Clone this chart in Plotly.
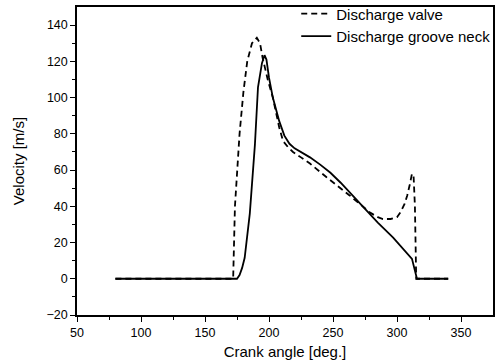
import plotly.graph_objects as go

# Discharge valve (dashed)
valve_angle = [80, 172, 173.4, 175, 177, 180, 183, 186.7, 190.5, 193, 195, 199, 203, 208, 211, 215, 218.75,
               225, 232, 245, 263, 279, 285, 289, 295, 300, 303, 306, 308, 310, 311.7, 313, 314, 315, 340]
valve_vel = [0, 0, 40, 60, 80, 103, 120, 130, 133, 130, 122, 110, 100, 83.5, 76, 72.5, 70,
             67, 63.6, 56, 46, 36.5, 34, 33, 33, 34, 37, 41.5, 46, 52, 58, 56, 40, 0, 0]

# Discharge groove neck (solid)
neck_angle = [80, 175, 177, 179, 181, 185, 189, 191.4, 194.5, 196.5, 198, 200, 203, 208, 212, 216, 220,
              226, 232, 240, 248, 256, 264, 271, 285, 297, 304, 308, 311.7, 315.6, 340]
neck_vel = [0, 0, 2, 6, 11.6, 36, 74, 105.7, 119, 123.4, 121, 111, 100, 87, 79, 74.5, 72,
            69.5, 67, 63, 58.5, 53, 47, 41.5, 31, 22.7, 17, 13.8, 11, 0, 0]

fig = go.Figure()
fig.add_trace(go.Scatter(x=valve_angle, y=valve_vel, mode="lines", name="Discharge valve",
                         line=dict(color="black", width=1.8, dash="6px,4px")))
fig.add_trace(go.Scatter(x=neck_angle, y=neck_vel, mode="lines", name="Discharge groove neck",
                         line=dict(color="black", width=1.8)))

font = "Liberation Sans, Arial, sans-serif"
fig.update_layout(
    width=496, height=364,
    margin=dict(l=77, r=3, t=7, b=49, autoexpand=False),
    paper_bgcolor="white", plot_bgcolor="white",
    font=dict(family=font, size=12, color="black"),
    showlegend=True,
    legend=dict(x=0.527, y=1.031, xanchor="left", yanchor="top", bgcolor="rgba(0,0,0,0)",
                font=dict(size=15), tracegroupgap=0, itemwidth=30),
    xaxis=dict(range=[50, 375], tickvals=[50, 100, 150, 200, 250, 300, 350],
               ticks="outside", ticklen=5, tickwidth=1.2, tickcolor="black",
               minor=dict(tickvals=[75, 125, 175, 225, 275, 325], ticks="outside", ticklen=3, tickcolor="black"),
               showline=True, linecolor="black", linewidth=1.5, mirror=True,
               showgrid=False, zeroline=False,
               title=dict(text="Crank angle [deg.]", font=dict(size=15), standoff=8),
               tickfont=dict(size=12.5)),
    yaxis=dict(range=[-20, 150], tickvals=[-20, 0, 20, 40, 60, 80, 100, 120, 140],
               ticks="outside", ticklen=5, tickwidth=1.2, tickcolor="black",
               minor=dict(tickvals=[-10, 10, 30, 50, 70, 90, 110, 130], ticks="outside", ticklen=3, tickcolor="black"),
               showline=True, linecolor="black", linewidth=1.5, mirror=True,
               showgrid=False, zeroline=False,
               title=dict(text="Velocity [m/s]", font=dict(size=15), standoff=18),
               tickfont=dict(size=12.5)),
)

fig.write_html("out.html")
